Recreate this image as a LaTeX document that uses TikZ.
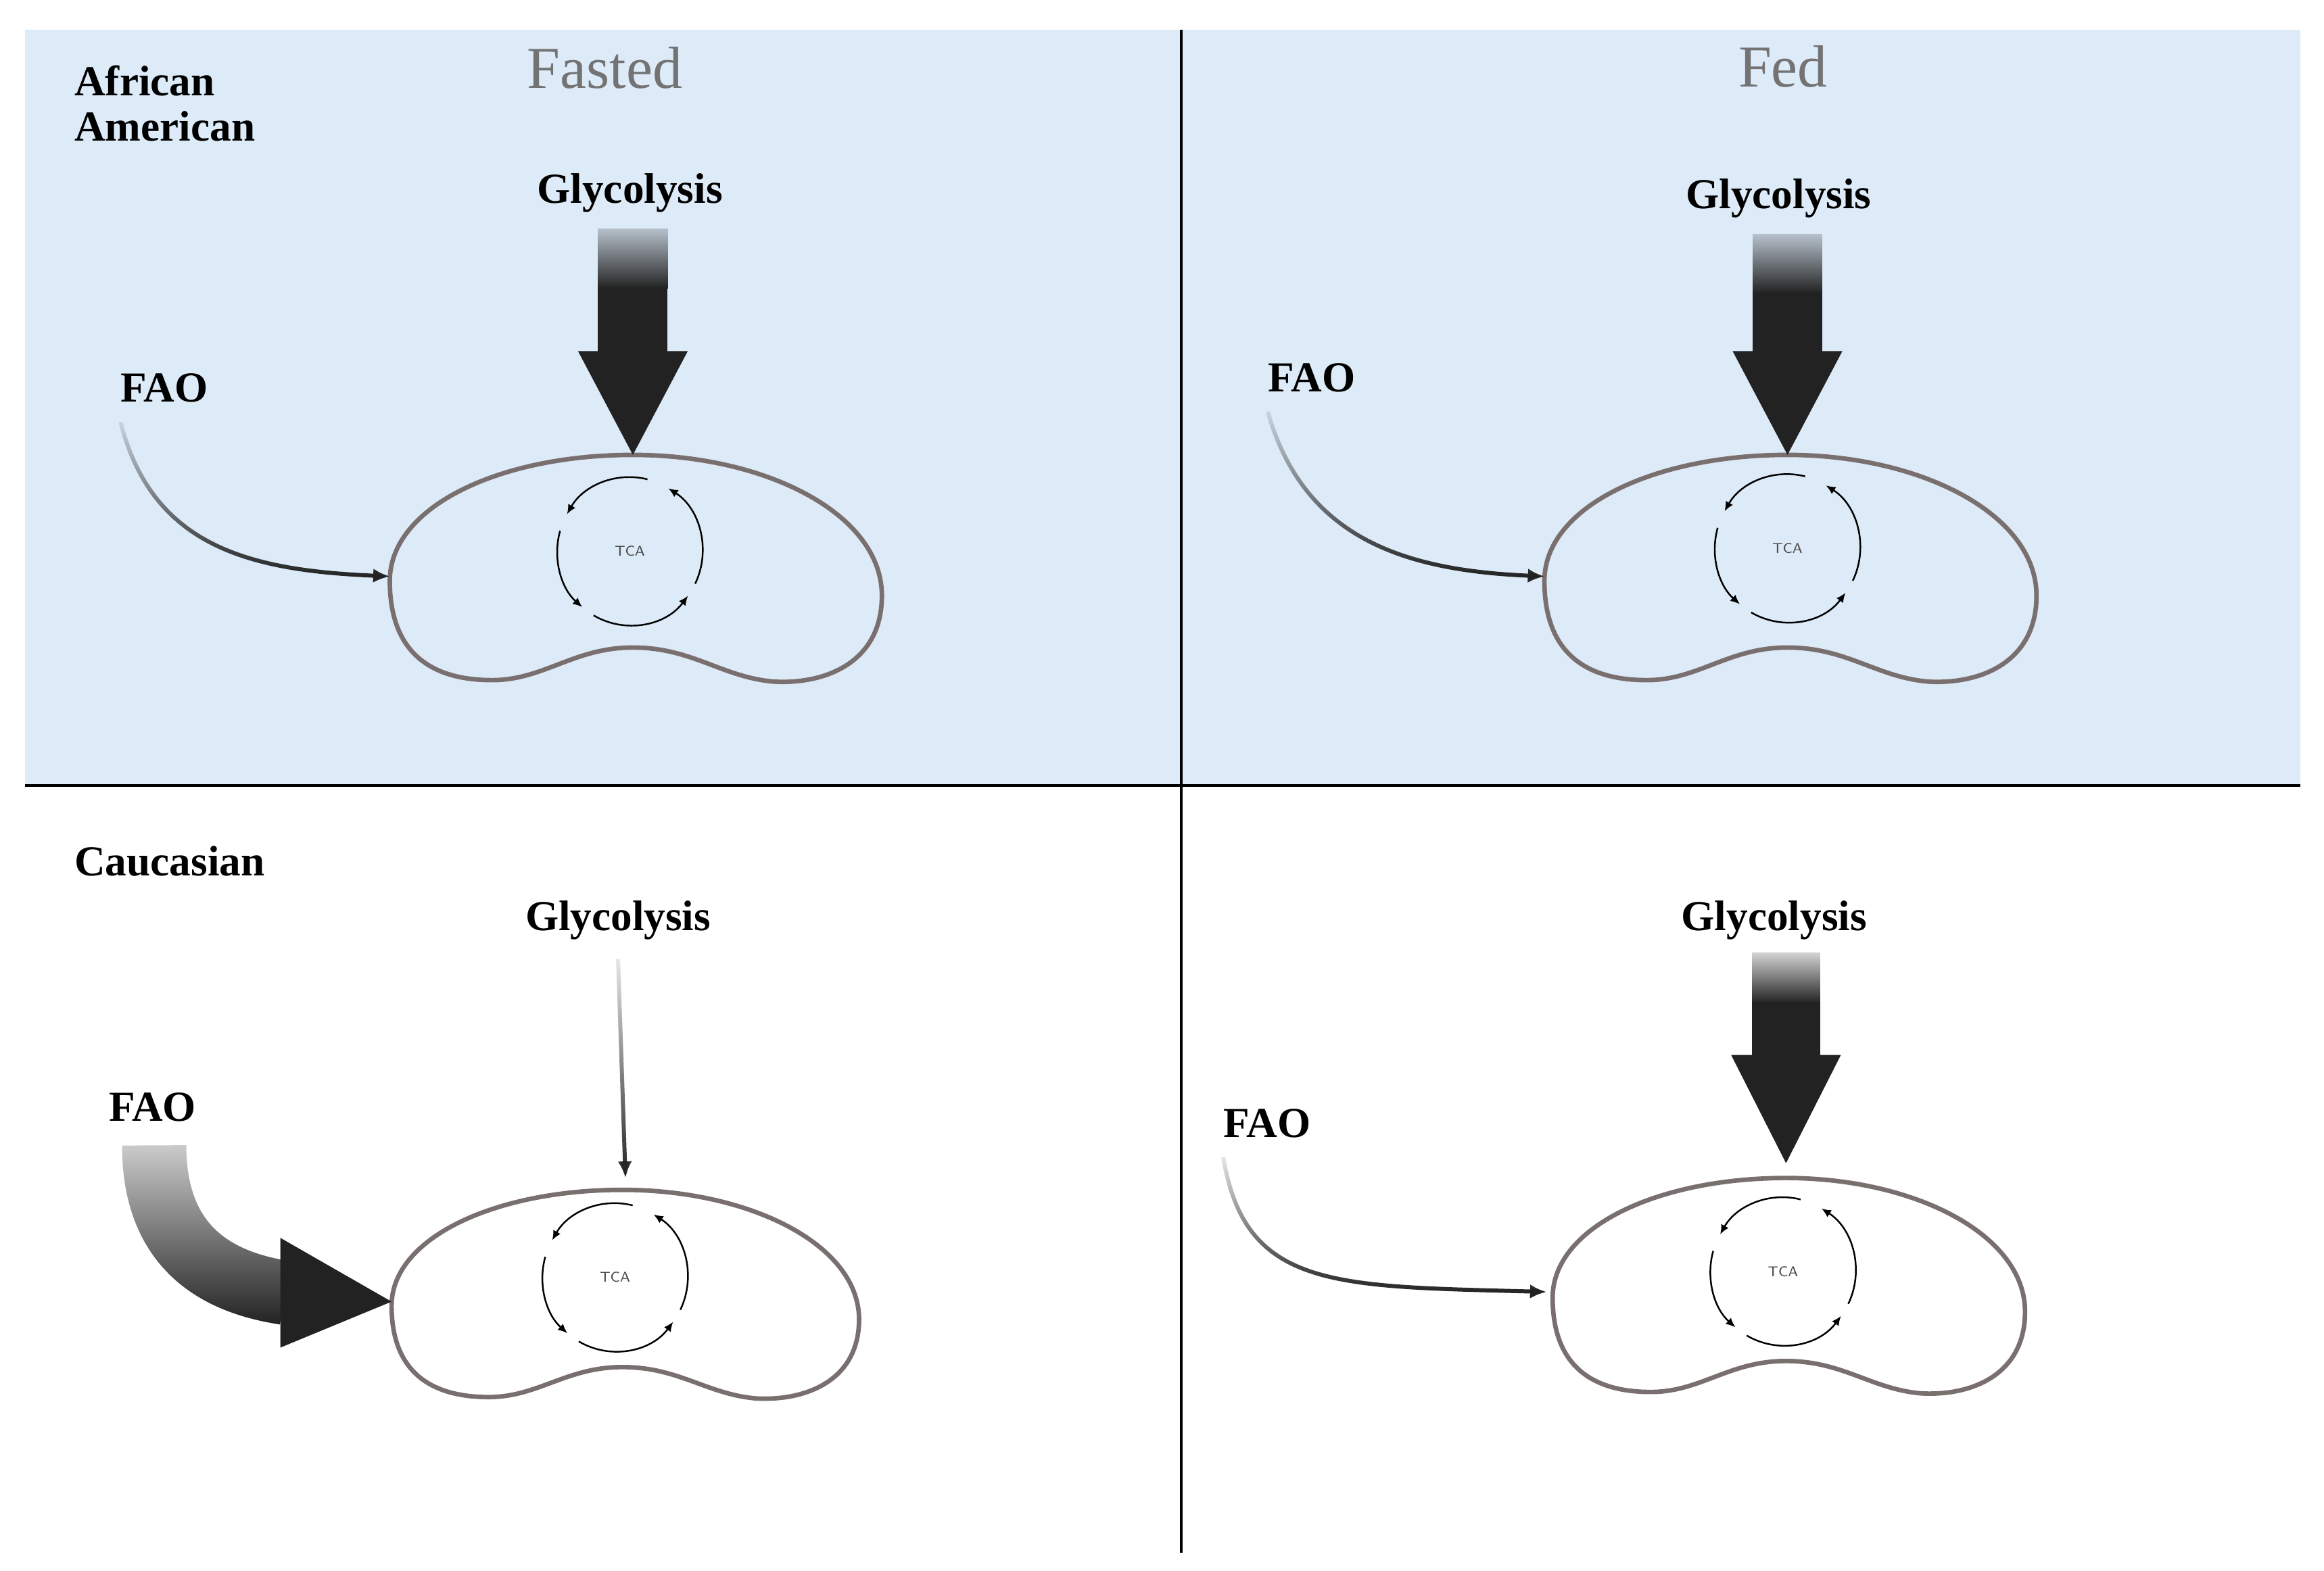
\documentclass[tikz,border=0pt]{standalone}
\usepackage{fontspec}
\setmainfont{Liberation Serif}
\usepackage{tikz}
\usetikzlibrary{calc,fadings,arrows.meta}
\definecolor{panelblue}{HTML}{DDEAF7}
\definecolor{wallgray}{HTML}{7A6F6F}
\definecolor{fluxdark}{HTML}{222222}
\tikzfading[name=fadetop, top color=transparent!90, middle color=transparent!0, bottom color=transparent!0]
\tikzfading[name=fadeshaft, top color=transparent!80, bottom color=transparent!0]
\tikzset{
  lbl/.style={font=\bfseries\fontsize{18}{20}\selectfont, inner sep=0pt},
  hdr/.style={font=\fontsize{25}{27}\selectfont, text=black!55, inner sep=0pt},
  cellwall/.style={draw=wallgray, line width=1.9pt},
  thinflux/.style={draw=fluxdark, line width=1.7pt, -{Latex[length=7pt,width=6pt]}, path fading=fadetop},
  cyc/.style={draw=black, line width=0.7pt, -{Latex[length=4pt,width=3.5pt]}},
  pics/bean/.style={code={
    \draw[cellwall] (0,0) .. controls (90,0) and (168,40) .. (168,95)
      .. controls (168,140) and (130,155) .. (95,153)
      .. controls (60,150) and (40,130) .. (0,130)
      .. controls (-40,130) and (-60,152) .. (-95,152)
      .. controls (-140,152) and (-164,130) .. (-164,85)
      .. controls (-164,35) and (-90,0) .. (0,0) -- cycle;
    \coordinate (-top) at (0,0);
    \coordinate (-left) at (-164,82);
  }},
  pics/tca/.style={code={
    \node[font=\sffamily\fontsize{6}{7}\selectfont, text=black!70] (-lbl) at (0,0) {TCA};
    \draw[cyc] (-76:49 and 50) arc[start angle=-76, end angle=-150, x radius=49, y radius=50];
    \draw[cyc] (-164:49 and 50) arc[start angle=-164, end angle=-229, x radius=49, y radius=50];
    \draw[cyc] (-240:49 and 50) arc[start angle=-240, end angle=-323, x radius=49, y radius=50];
    \draw[cyc] (-334:49 and 50) arc[start angle=-334, end angle=-418, x radius=49, y radius=50];
  }}
}
\begin{document}
\begin{tikzpicture}[x=0.02192cm, y=-0.02192cm]
\useasboundingbox (0,0) rectangle (1568,1060);
% panels
\fill[panelblue] (17,20) rectangle (1552,530);
\draw[line width=1.2pt] (797,20) -- (797,1048);
\draw[line width=1.2pt] (17,530) -- (1552,530);
% headings
\node[hdr] (fasted) at (408,46) {Fasted};
\node[hdr] (fed) at (1203,45) {Fed};
\node[lbl, anchor=north west, align=left] (afram) at (50,44) {African\\[-1pt]American};
\node[lbl, anchor=west] (cauc) at (50,581) {Caucasian};
% cells
\pic (cA) at (427,307) {bean};
\pic (cB) at (1206,307) {bean};
\pic[xscale=0.95, yscale=0.92] (cC) at (420,803) {bean};
\pic[xscale=0.96, yscale=0.95] (cD) at (1205,795) {bean};
\pic (tA) at (425,372) {tca};
\pic (tB) at (1206,370) {tca};
\pic (tC) at (415,862) {tca};
\pic (tD) at (1203,858) {tca};
% labels
\node[lbl] (glyA) at (425,130) {Glycolysis};
\node[lbl] (glyB) at (1200,134) {Glycolysis};
\node[lbl] (glyC) at (417,621) {Glycolysis};
\node[lbl] (glyD) at (1197,621) {Glycolysis};
\node[lbl] (faoA) at (111,262) {FAO};
\node[lbl] (faoB) at (885,255) {FAO};
\node[lbl] (faoC) at (103,747) {FAO};
\node[lbl] (faoD) at (855,758) {FAO};
% glycolysis fluxes
\fill[fluxdark, path fading=fadeshaft] ($(cA-top)+(-23.5,-153)$) rectangle ($(cA-top)+(23.5,-112)$);
\fill[fluxdark] ($(cA-top)+(-23.5,-113)$) rectangle ($(cA-top)+(23.5,-69)$);
\fill[fluxdark] ($(cA-top)+(-37,-70)$) -- (cA-top) -- ($(cA-top)+(37,-70)$) -- cycle;
\fill[fluxdark, path fading=fadeshaft] ($(cB-top)+(-23.5,-149)$) rectangle ($(cB-top)+(23.5,-109)$);
\fill[fluxdark] ($(cB-top)+(-23.5,-110)$) rectangle ($(cB-top)+(23.5,-69)$);
\fill[fluxdark] ($(cB-top)+(-37,-70)$) -- (cB-top) -- ($(cB-top)+(37,-70)$) -- cycle;
\fill[fluxdark, path fading=fadeshaft] ($(cD-top)+(-23,-152)$) rectangle ($(cD-top)+(23,-118)$);
\fill[fluxdark] ($(cD-top)+(-23,-119)$) rectangle ($(cD-top)+(23,-82)$);
\fill[fluxdark] ($(cD-top)+(-37,-83)$) -- ($(cD-top)+(0,-10)$) -- ($(cD-top)+(37,-83)$) -- cycle;
\draw[thinflux] ([yshift=-8pt]glyC.south) -- ($(cC-top)+(2,-8)$);
% FAO fluxes
\draw[thinflux] ([yshift=-8pt]faoA.south west) .. controls (103,370) and (170,385) .. (cA-left);
\draw[thinflux] ([yshift=-8pt]faoB.south west) .. controls (880,365) and (950,385) .. (cB-left);
\draw[thinflux] ([yshift=-8pt]faoD.south west) .. controls (840,870) and (900,868) .. ($(cD-left)+(-4,-1)$);
\draw[fluxdark, line width=0.95cm, path fading=fadetop] (104,773) .. controls (104,845) and (150,866) .. ($(cC-left)+(-72,-6)$);
\fill[fluxdark] ($(cC-left)+(-75,-43)$) -- (cC-left) -- ($(cC-left)+(-75,31)$) -- cycle;
\end{tikzpicture}
\end{document}
